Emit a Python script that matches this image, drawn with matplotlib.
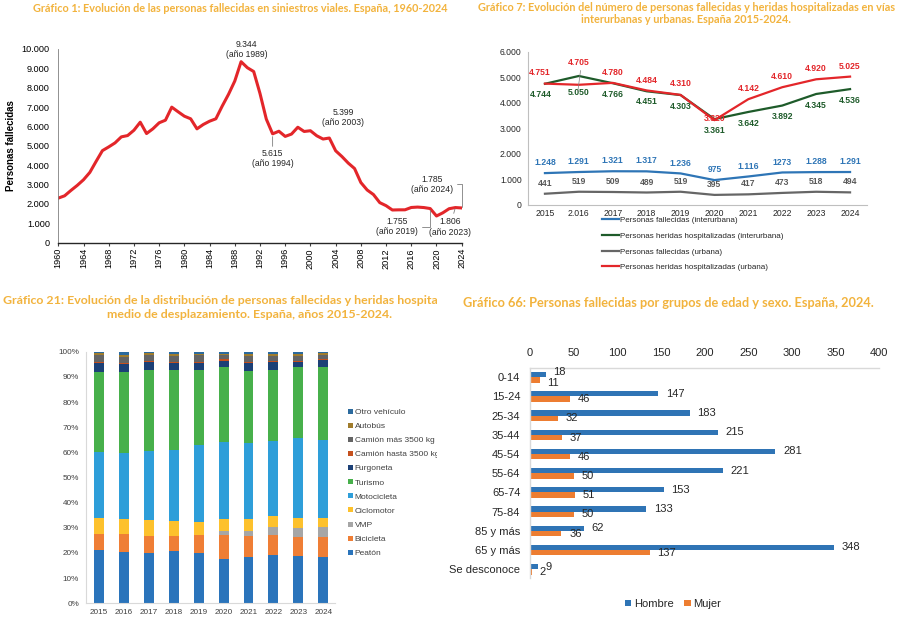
import matplotlib
matplotlib.use('Agg')
import matplotlib.pyplot as plt
import numpy as np
from matplotlib.transforms import Bbox, TransformedBbox

plt.rcParams['font.family'] = ['Liberation Sans', 'DejaVu Sans']

# ---------------- DATA ----------------
# Gráfico 1
years1 = list(range(1960, 2025))
deaths1 = [2294, 2413, 2690, 2950, 3243, 3622, 4193, 4748, 4940, 5148,
           5459, 5527, 5802, 6217, 5631, 5874, 6186, 6321, 6995, 6757,
           6528, 6393, 5874, 6098, 6269, 6393, 7047, 7654, 8345, 9344,
           9032, 8836, 7700, 6378, 5615, 5751, 5483, 5604, 5957, 5738,
           5776, 5517, 5347, 5399, 4741, 4442, 4104, 3823, 3100, 2714,
           2478, 2060, 1903, 1680, 1688, 1689, 1810, 1830, 1806, 1755,
           1370, 1533, 1746, 1806, 1785]
ticks1 = list(range(1960, 2025, 4))

# Gráfico 7
years2 = ['2015', '2.016', '2017', '2018', '2019', '2020', '2021', '2022', '2023', '2024']
fall_inter = [1248, 1291, 1321, 1317, 1236, 975, 1116, 1273, 1288, 1291]
fall_inter_lbl = ['1.248', '1.291', '1.321', '1.317', '1.236', '975', '1.116', '1273', '1.288', '1.291']
her_inter = [4744, 5050, 4766, 4451, 4303, 3361, 3642, 3892, 4345, 4536]
fall_urb = [441, 519, 509, 489, 519, 395, 417, 473, 518, 494]
her_urb = [4751, 4705, 4780, 4484, 4310, 3320, 4142, 4610, 4920, 5025]

# Gráfico 21 (percent shares)
years3 = ['2015', '2016', '2017', '2018', '2019', '2020', '2021', '2022', '2023', '2024']
cats3 = ['Peatón', 'Bicicleta', 'VMP', 'Ciclomotor', 'Motocicleta', 'Turismo',
         'Furgoneta', 'Camión hasta 3500 kg', 'Camión más 3500 kg', 'Autobús', 'Otro vehículo']
peaton = [21.2, 20.5, 20.1, 20.7, 20.0, 17.5, 18.3, 19.3, 18.9, 18.3]
bicicleta = [6.3, 7.0, 6.8, 6.2, 7.0, 9.4, 8.5, 7.6, 7.6, 7.8]
vmp = [0.0, 0.0, 0.0, 0.0, 0.0, 1.6, 1.9, 3.2, 3.4, 4.1]
ciclomotor = [6.5, 6.0, 6.2, 5.9, 5.5, 5.0, 4.7, 4.7, 3.9, 3.7]
motocicleta = [26.3, 26.1, 27.6, 28.1, 30.3, 30.6, 30.2, 29.4, 32.0, 31.0]
turismo = [31.8, 32.5, 32.0, 31.8, 29.9, 29.5, 28.9, 28.5, 28.2, 28.7]
furgoneta = [3.5, 3.0, 3.3, 2.9, 2.9, 2.7, 3.1, 2.9, 1.9, 2.8]
camion_hasta = [0.4, 0.5, 0.4, 0.4, 0.4, 0.5, 0.5, 0.5, 0.5, 0.4]
camion_mas = [2.7, 2.2, 2.3, 2.3, 2.5, 1.6, 2.2, 2.0, 2.1, 1.7]
autobus = [0.6, 0.8, 0.6, 0.6, 0.5, 0.5, 0.6, 0.7, 0.6, 0.6]
otro = [0.7, 1.4, 0.7, 1.1, 1.0, 0.9, 1.1, 1.0, 1.0, 0.6]

# Gráfico 66
ages4 = ['0-14', '15-24', '25-34', '35-44', '45-54', '55-64', '65-74', '75-84',
         '85 y más', '65 y más', 'Se desconoce']
hombre = [18, 147, 183, 215, 281, 221, 153, 133, 62, 348, 9]
mujer = [11, 46, 32, 37, 46, 50, 51, 50, 36, 137, 2]

# ---------------- FIGURE ----------------
W, H = 900, 621
def fx(px): return px / W
def fy(py): return 1 - py / H
def box(l, t, r, b): return [fx(l), fy(b), (r - l) / W, (b - t) / H]

fig = plt.figure(figsize=(9, 6.21), dpi=100)
TCOL = '#F2B33D'
TFONT = ['Lato', 'DejaVu Sans']

def thousands(v, _=None):
    return f'{int(v):,}'.replace(',', '.')

# ---- Gráfico 1 ----
fig.text(fx(240.5), fy(8), 'Gráfico 1: Evolución de las personas fallecidas en siniestros viales. España, 1960-2024',
         ha='center', va='center', fontsize=7.8, fontweight='bold', color=TCOL, family=TFONT)
ax1 = fig.add_axes(box(58.3, 49, 461.7, 242.5))
ax1.plot(years1, deaths1, color='#E3262A', lw=2.2, solid_joinstyle='round')
ax1.set_xlim(1960, 2024)
ax1.set_ylim(0, 10000)
ax1.set_yticks(range(0, 10001, 1000))
ax1.yaxis.set_major_formatter(plt.FuncFormatter(thousands))
ax1.set_xticks(ticks1)
ax1.set_xticklabels([str(t) for t in ticks1], rotation=90)
ax1.tick_params(axis='y', length=0, pad=6, labelsize=6.6)
ax1.tick_params(axis='x', length=2, pad=2, labelsize=6.6, color='#404040')
for s in ['top', 'right']:
    ax1.spines[s].set_visible(False)
ax1.spines['left'].set_color('#7f7f7f')
ax1.spines['left'].set_linewidth(0.6)
ax1.spines['bottom'].set_color('#262626')
ax1.spines['bottom'].set_linewidth(1.0)
ax1.set_ylabel('Personas fallecidas', fontsize=7, fontweight='bold', labelpad=4)

def yrval(y):
    return deaths1[years1.index(y)]

ann = dict(fontsize=6.2, color='#262626', linespacing=1.15, textcoords='offset points')
ax1.annotate('9.344\n(año 1989)', xy=(1989, yrval(1989)), xytext=(4, 8.5), ha='center', va='center', **ann)
ax1.annotate('5.399\n(año 2003)', xy=(2003, yrval(2003)), xytext=(10, 15), ha='center', va='center', **ann)
ax1.annotate('5.615\n(año 1994)', xy=(1994, yrval(1994)), xytext=(0, -11), ha='center', va='top',
             arrowprops=dict(arrowstyle='-', color='#7f7f7f', lw=0.6, shrinkA=0, shrinkB=2), **ann)
ax1.annotate('1.755\n(año 2019)', xy=(2019, yrval(2019)), xytext=(-24, -13), ha='center', va='center',
             arrowprops=dict(arrowstyle='-', color='#7f7f7f', lw=0.6, shrinkA=1, shrinkB=1,
                             connectionstyle='angle,angleA=0,angleB=90,rad=0'), **ann)
ax1.annotate('1.785\n(año 2024)', xy=(2024, yrval(2024)), xytext=(-21.6, 17), ha='center', va='center',
             arrowprops=dict(arrowstyle='-', color='#7f7f7f', lw=0.6, shrinkA=1, shrinkB=1,
                             connectionstyle='angle,angleA=0,angleB=90,rad=0'), **ann)
ax1.annotate('1.806\n(año 2023)', xy=(2023, yrval(2023)), xytext=(-4, -14), ha='center', va='center',
             arrowprops=dict(arrowstyle='-', color='#7f7f7f', lw=0.6, shrinkA=1, shrinkB=1), **ann)

# ---- Gráfico 7 ----
fig.text(fx(686.5), fy(7.3), 'Gráfico 7: Evolución del número de personas fallecidas y heridas hospitalizadas en vías',
         ha='center', va='center', fontsize=7.8, fontweight='bold', color=TCOL, family=TFONT)
fig.text(fx(686), fy(19.3), 'interurbanas y urbanas. España 2015-2024.',
         ha='center', va='center', fontsize=7.8, fontweight='bold', color=TCOL, family=TFONT)
ax2 = fig.add_axes(box(528, 51.7, 867, 205))
x2 = np.arange(len(years2))
c_blue, c_green, c_gray, c_red = '#2E75B6', '#1E5B2A', '#666666', '#E3262A'
l_b, = ax2.plot(x2, fall_inter, color=c_blue, lw=1.6)
l_g, = ax2.plot(x2, her_inter, color=c_green, lw=1.6)
l_y, = ax2.plot(x2, fall_urb, color=c_gray, lw=1.6)
l_r, = ax2.plot(x2, her_urb, color=c_red, lw=1.6)
ax2.set_xlim(-0.5, len(years2) - 0.5)
ax2.set_ylim(0, 6000)
ax2.set_yticks(range(0, 6001, 1000))
ax2.yaxis.set_major_formatter(plt.FuncFormatter(thousands))
ax2.set_xticks(x2)
ax2.set_xticklabels(years2)
ax2.tick_params(axis='both', length=0, labelsize=6.2, colors='#262626')
ax2.tick_params(axis='y', pad=4.5)
ax2.tick_params(axis='x', pad=3)
for s in ['top', 'right']:
    ax2.spines[s].set_visible(False)
for s in ['left', 'bottom']:
    ax2.spines[s].set_color('#bfbfbf')
    ax2.spines[s].set_linewidth(0.8)

lab = dict(textcoords='offset points', ha='center', va='center', fontsize=6.2, fontweight='bold')
red_off = [8, 16, 7.5, 7.5, 8, 1.5, 8, 7.5, 7.5, 7.5]
green_off = [-8, -12, -8, -7.5, -8, -8, -8, -8, -8, -8]
for i in range(len(years2)):
    ax2.annotate(thousands(her_urb[i]), xy=(i, her_urb[i]), xytext=(-4 if i == 0 else 0, red_off[i]),
                 color=c_red, **lab)
    ax2.annotate(thousands(her_inter[i]), xy=(i, her_inter[i]), xytext=(-3 if i == 0 else 0, green_off[i]),
                 color=c_green, **lab)
    ax2.annotate(fall_inter_lbl[i], xy=(i, fall_inter[i]), xytext=(0, 7.5), color=c_blue, **lab)
    ax2.annotate(str(fall_urb[i]), xy=(i, fall_urb[i]), xytext=(0, 7.5), color='#595959', **lab)
ax2.annotate('', xy=(0.97, her_urb[1] - 250), xytext=(1.05, her_urb[1] + 560),
             arrowprops=dict(arrowstyle='-', color='#7f7f7f', lw=0.5, shrinkA=0, shrinkB=0))

leg2 = ax2.legend([l_b, l_g, l_y, l_r],
                  ['Personas fallecidas (interurbana)', 'Personas heridas hospitalizadas (interurbana)',
                   'Personas fallecidas (urbana)', 'Personas heridas hospitalizadas (urbana)'],
                  loc='upper left', bbox_to_anchor=(fx(601.7), fy(216.5)), bbox_transform=fig.transFigure,
                  frameon=False, fontsize=5.8, handlelength=2.2, handletextpad=0.1, labelspacing=1.0,
                  borderpad=0, borderaxespad=0)
for t in leg2.get_texts():
    t.set_color('#262626')

# ---- Gráfico 21 ----
clip3 = TransformedBbox(Bbox([[0, 0], [fx(437), 1]]), fig.transFigure)
t31 = fig.text(fx(249.5), fy(300.7),
               'Gráfico 21: Evolución de la distribución de personas fallecidas y heridas hospitalizadas por',
               ha='center', va='center', fontsize=8.9, fontweight='bold', color=TCOL, family=TFONT)
t31.set_clip_box(clip3)
t31.set_clip_on(True)
fig.text(fx(249.5), fy(315), 'medio de desplazamiento. España, años 2015-2024.',
         ha='center', va='center', fontsize=8.9, fontweight='bold', color=TCOL, family=TFONT)

ax3 = fig.add_axes(box(86, 351.7, 335, 603.3))
series3 = [peaton, bicicleta, vmp, ciclomotor, motocicleta, turismo, furgoneta,
           camion_hasta, camion_mas, autobus, otro]
colors3 = ['#2A74BB', '#EF7E35', '#A6A6A6', '#FDC12C', '#2E9ED9', '#47B04B', '#1C4076',
           '#C5501E', '#646464', '#A07C2C', '#2B6A9E']
arr3 = np.array(series3, dtype=float)
arr3 = arr3 / arr3.sum(axis=0)
x3 = np.arange(len(years3))
bottom = np.zeros(len(years3))
handles3 = []
for k in range(len(cats3)):
    b = ax3.bar(x3, arr3[k], width=0.4, bottom=bottom, color=colors3[k], label=cats3[k], linewidth=0)
    handles3.append(b)
    bottom += arr3[k]
ax3.set_xlim(-0.52, len(years3) - 0.53)
ax3.set_ylim(0, 1)
ax3.set_yticks(np.linspace(0, 1, 11))
ax3.set_yticklabels([f'{p}%' for p in range(0, 101, 10)])
ax3.set_xticks(x3)
ax3.set_xticklabels(years3)
ax3.tick_params(axis='both', length=0, labelsize=5.9, colors='#404040')
ax3.tick_params(axis='y', pad=5)
ax3.tick_params(axis='x', pad=4)
for s in ['top', 'right']:
    ax3.spines[s].set_visible(False)
for s in ['left', 'bottom']:
    ax3.spines[s].set_color('#d9d9d9')
    ax3.spines[s].set_linewidth(0.8)
leg3 = ax3.legend(handles3[::-1], cats3[::-1], loc='upper left',
                  bbox_to_anchor=(fx(348), fy(408.5)), bbox_transform=fig.transFigure,
                  frameon=False, fontsize=6, handlelength=0.55, handleheight=0.55,
                  handletextpad=0.25, labelspacing=0.8, borderpad=0, borderaxespad=0)
for t in leg3.get_texts():
    t.set_color('#404040')
    t.set_clip_box(clip3)
    t.set_clip_on(True)

# ---- Gráfico 66 ----
fig.text(fx(668), fy(303.3), 'Gráfico 66: Personas fallecidas por grupos de edad y sexo. España, 2024.',
         ha='center', va='center', fontsize=9.2, fontweight='bold', color=TCOL, family=TFONT)
ax4 = fig.add_axes(box(530, 367.7, 879.3, 578.3))
y4 = np.arange(len(ages4))
c_h, c_m = '#2F74B5', '#ED7D31'
bh = ax4.barh(y4 - 0.14, hombre, height=0.28, color=c_h, label='Hombre', linewidth=0)
bm = ax4.barh(y4 + 0.14, mujer, height=0.28, color=c_m, label='Mujer', linewidth=0)
ax4.set_xlim(0, 400)
ax4.set_ylim(len(ages4) - 0.53, -0.5)
ax4.set_yticks(y4)
ax4.set_yticklabels(ages4)
ax4.xaxis.tick_top()
ax4.set_xticks(range(0, 401, 50))
ax4.tick_params(axis='both', length=0, labelsize=8, colors='#262626')
ax4.tick_params(axis='x', pad=7)
ax4.tick_params(axis='y', pad=7)
for s in ['bottom', 'right']:
    ax4.spines[s].set_visible(False)
for s in ['left', 'top']:
    ax4.spines[s].set_color('#d9d9d9')
    ax4.spines[s].set_linewidth(1.0)
h_dy = [2.0] + [0] * (len(ages4) - 1)
m_dy = [-2.5] + [0] * (len(ages4) - 1)
for i in range(len(ages4)):
    ax4.annotate(str(hombre[i]), xy=(hombre[i], y4[i] - 0.14), xytext=(5.5, h_dy[i]), textcoords='offset points',
                 ha='left', va='center', fontsize=8, color='#262626')
    ax4.annotate(str(mujer[i]), xy=(mujer[i], y4[i] + 0.14), xytext=(5.5, m_dy[i]), textcoords='offset points',
                 ha='left', va='center', fontsize=8, color='#262626')
leg4 = ax4.legend(handles=[bh, bm], labels=['Hombre', 'Mujer'], loc='center',
                  bbox_to_anchor=(fx(673), fy(604)), bbox_transform=fig.transFigure, ncol=2,
                  frameon=False, fontsize=8, handlelength=0.55, handleheight=0.55,
                  handletextpad=0.25, columnspacing=1.0, borderpad=0)
for t in leg4.get_texts():
    t.set_color('#262626')

fig.savefig('out.png', dpi=100)
